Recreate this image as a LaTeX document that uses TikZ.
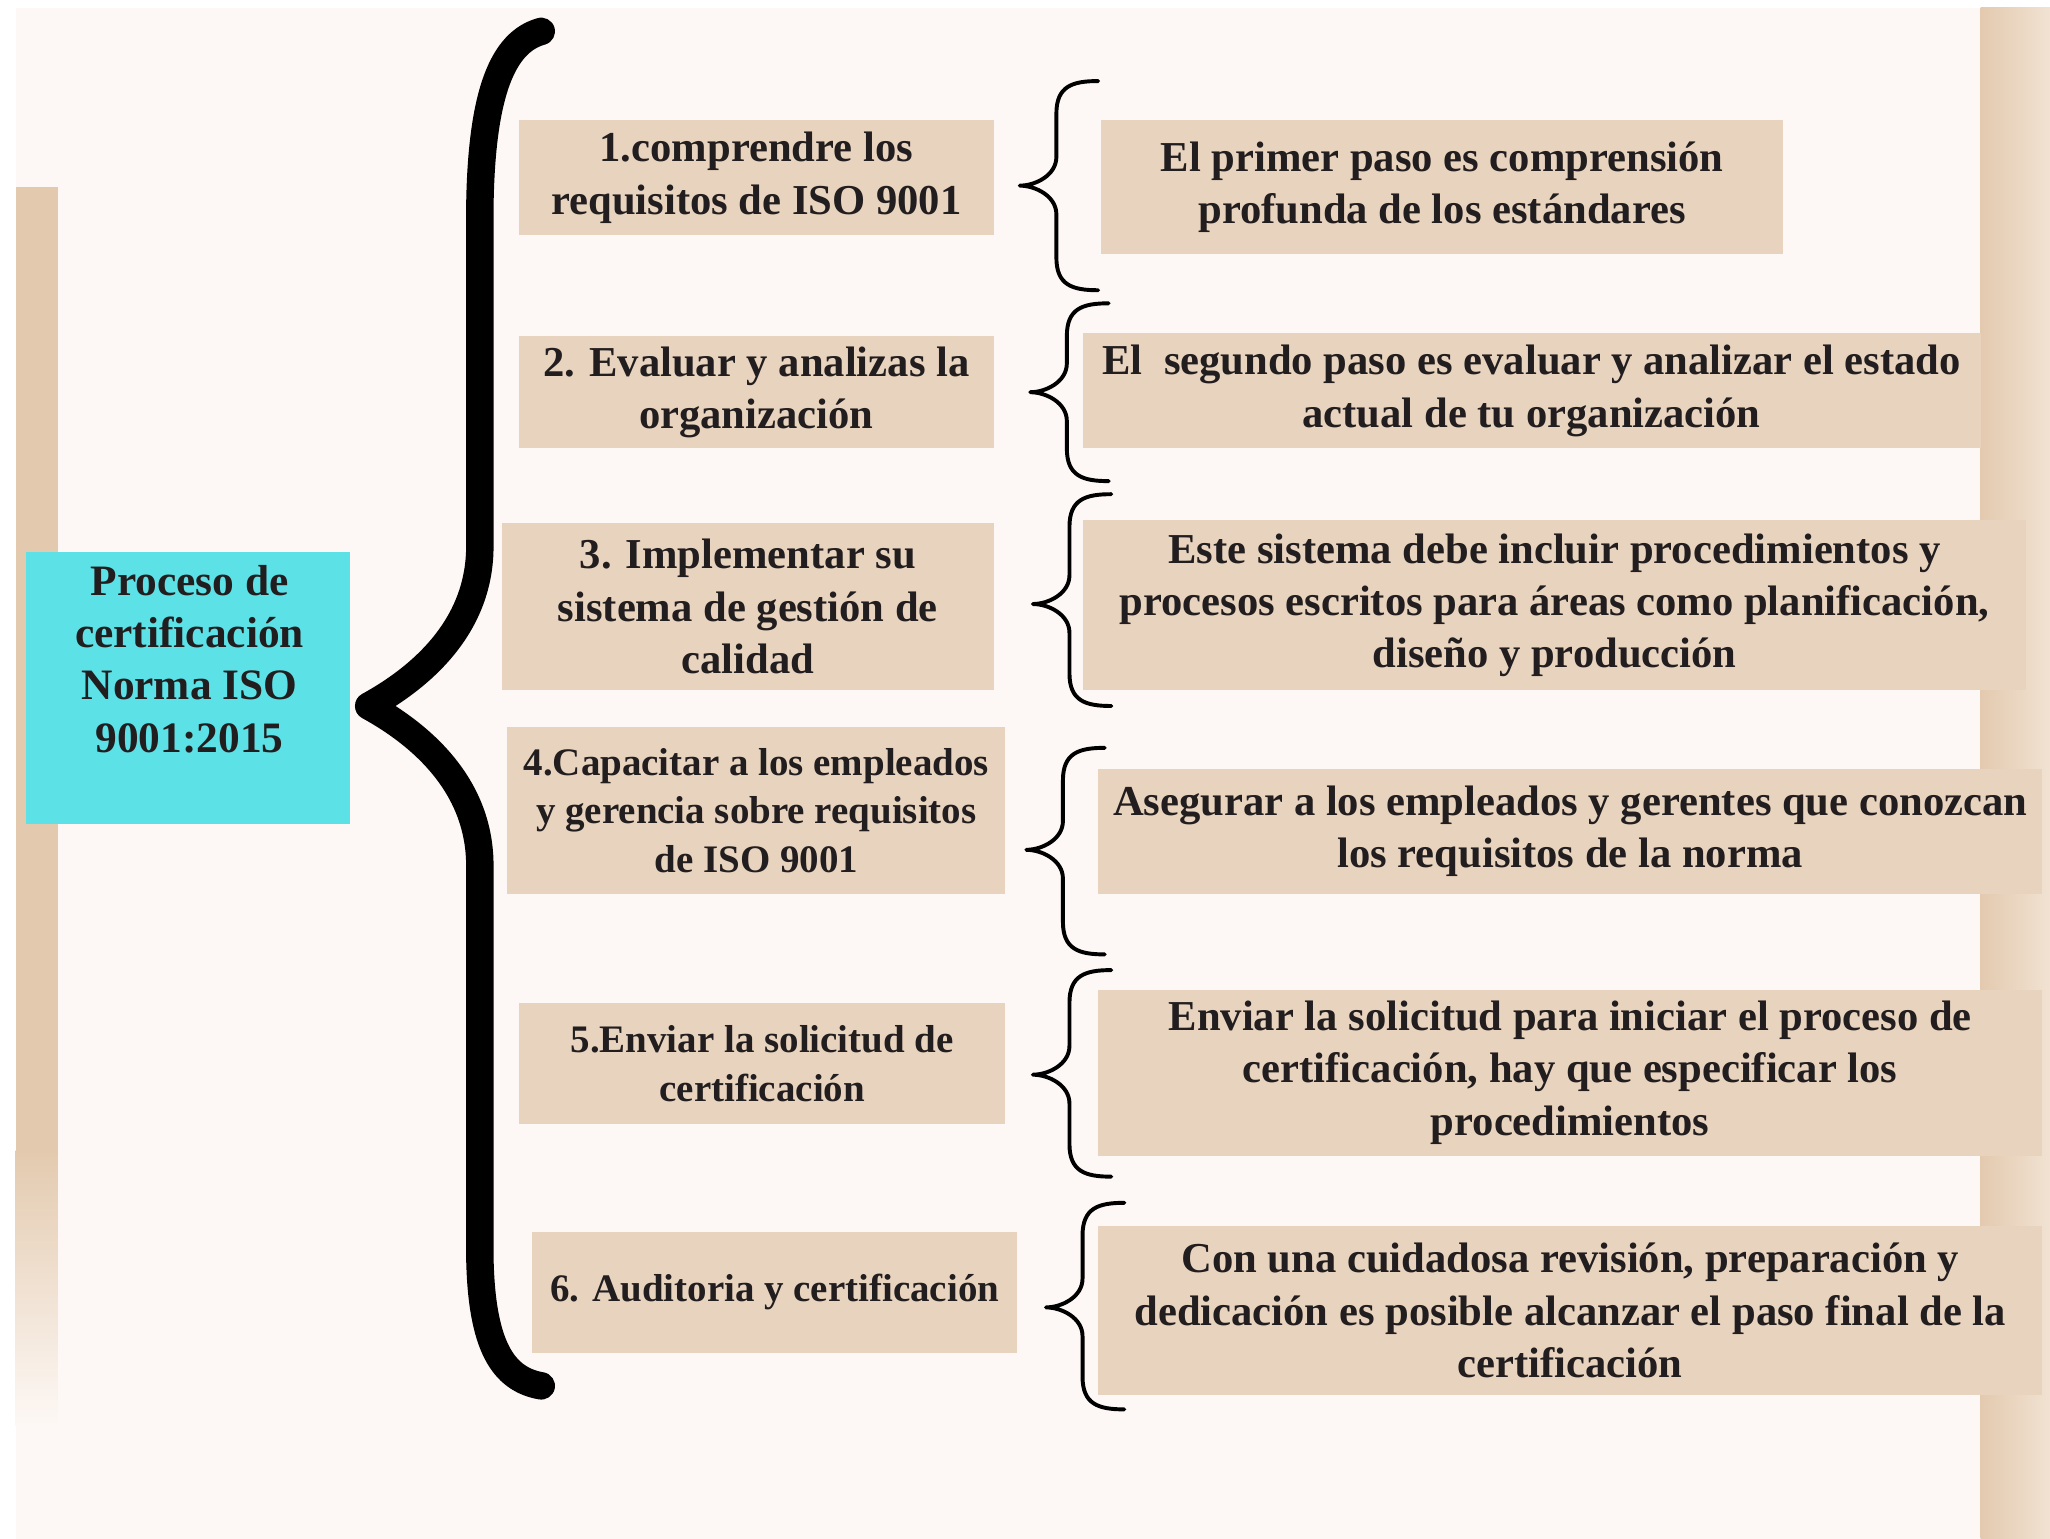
\documentclass[tikz,border=0pt]{standalone}
\usepackage{fontspec}
\setmainfont{Liberation Serif}
\definecolor{bg}{HTML}{FDF8F5}
\definecolor{tanbox}{HTML}{E8D3BE}
\definecolor{cyanbox}{HTML}{5CE1E6}
\definecolor{stripc}{HTML}{E3CAAF}
\definecolor{stripl}{HTML}{F1E2D2}
\definecolor{ink}{HTML}{221E1F}
\newcommand\mybrace[4]{%
  \draw[sbr] (#1+60,#2) .. controls (#1+40,#2) and (#1+28,#2+4) .. (#1+28,#2+25)
    -- (#1+28,#3-22) .. controls (#1+28,#3-8) and (#1+12,#3) .. (#1,#3)
    .. controls (#1+12,#3) and (#1+28,#3+8) .. (#1+28,#3+22)
    -- (#1+28,#4-25) .. controls (#1+28,#4-4) and (#1+40,#4) .. (#1+60,#4);}
\begin{document}
\begin{tikzpicture}[x=0.5pt,y=-0.5pt,
  box/.style={fill=tanbox, inner sep=0pt, align=center, text=ink,
    font=\bfseries\fontsize{16.3}{20}\selectfont},
  sbox/.style={box, font=\bfseries\fontsize{14.9}{18.5}\selectfont},
  cbox/.style={fill=cyanbox, inner sep=0pt},
  ctext/.style={align=center, text=ink, inner sep=0pt,
    font=\bfseries\fontsize{16.6}{20}\selectfont},
  sbr/.style={draw=black, line width=1.5pt, line cap=round, line join=round},
  bbr/.style={draw=black, line width=10.5pt, line cap=round, line join=round}]
\useasboundingbox (0,0) rectangle (1568,1177);
\fill[white] (0,0) rectangle (1568,1177);
\fill[bg] (12,6) rectangle (1515,1177);
\shade[left color=stripc, right color=stripl] (1515,6) rectangle (1568,1177);
% left strip
\fill[stripc] (12,143) rectangle (44,880);
\shade[top color=stripc, bottom color=bg] (12,880) rectangle (44,1090);

% central node
\node[cbox, minimum width=124pt, minimum height=104pt] (c) at (144,526) {};
\node[ctext] (ct) at (145,504) {Proceso de\\certificación\\Norma ISO\\9001:2015};

% left boxes
\node[box, minimum width=181.5pt, minimum height=44pt] (l1) at (578.5,136) {1.comprendre los\\requisitos de ISO 9001};
\node[box, minimum width=181.5pt, minimum height=43pt] (l2) at (578.5,300) {2. Evaluar y analizas la\\organización};
\node[box, minimum width=188pt, minimum height=64pt] (l3) at (572,464) {3. Implementar su\\sistema de gestión de\\calidad};
\node[sbox, minimum width=190.5pt, minimum height=64pt] (l4) at (578.5,620) {4.Capacitar a los empleados\\y gerencia sobre requisitos\\de ISO 9001};
\node[sbox, minimum width=186pt, minimum height=46.5pt] (l5) at (583,813.5) {5.Enviar la solicitud de\\certificación};
\node[sbox, minimum width=185.5pt, minimum height=46.5pt] (l6) at (592.5,988.5) {6. Auditoria y certificación};

% right boxes
\node[box, minimum width=261pt, minimum height=51pt] (r1) at (1103,143) {El primer paso es comprensión\\profunda de los estándares};
\node[box, minimum width=343.5pt, minimum height=44pt] (r2) at (1171.5,299) {El\ \ segundo paso es evaluar y analizar el estado\\actual de tu organización};
\node[box, minimum width=361pt, minimum height=65pt] (r3) at (1189,463) {Este sistema debe incluir procedimientos y\\procesos escritos para áreas como planificación,\\diseño y producción};
\node[box, minimum width=361pt, minimum height=48pt] (r4) at (1201,636) {Asegurar a los empleados y gerentes que conozcan\\los requisitos de la norma};
\node[box, minimum width=361pt, minimum height=63.5pt] (r5) at (1201,820.5) {Enviar la solicitud para iniciar el proceso de\\certificación, hay que especificar los\\procedimientos};
\node[box, minimum width=361pt, minimum height=64.5pt] (r6) at (1201,1002.5) {Con una cuidadosa revisión, preparación y\\dedicación es posible alcanzar el paso final de la\\certificación};

% big brace
\draw[bbr] (414,24) .. controls (385,32) and (368,70) .. (367,160)
  -- (367,420) .. controls (366,480) and (322,518) .. (282,540)
  .. controls (322,562) and (366,600) .. (367,660)
  -- (367,960) .. controls (368,1030) and (385,1055) .. (414,1060);

% small braces
\mybrace{780}{62}{142}{222}
\mybrace{788}{232}{300}{368}
\mybrace{790}{378}{462}{540}
\mybrace{785}{572}{650}{730}
\mybrace{790}{742}{822}{900}
\mybrace{800}{920}{1000}{1078}
\end{tikzpicture}
\end{document}
